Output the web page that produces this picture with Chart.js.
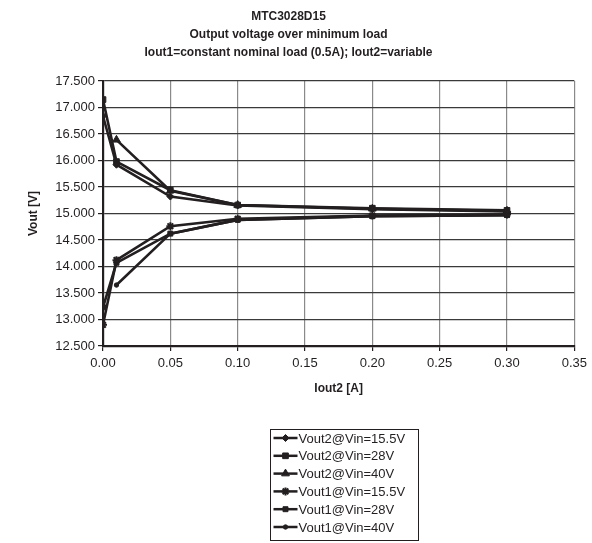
<!DOCTYPE html>
<html>
<head>
<meta charset="utf-8">
<script src="https://cdn.jsdelivr.net/npm/chart.js@4/dist/chart.umd.min.js"></script>
<style>
html,body{margin:0;padding:0;background:#fff;}
#wrap{width:592px;height:543px;}
</style>
</head>
<body>
<div id="wrap"><canvas id="c" width="592" height="543"></canvas></div>
<script>
const titleLines = ["MTC3028D15", "Output voltage over minimum load", "Iout1=constant nominal load (0.5A); Iout2=variable"];
const xTitle = "Iout2 [A]";
const yTitle = "Vout [V]";
const iout2 = [0, 0.01, 0.05, 0.10, 0.20, 0.30];
const seriesNames = ["Vout2@Vin=15.5V", "Vout2@Vin=28V", "Vout2@Vin=40V", "Vout1@Vin=15.5V", "Vout1@Vin=28V", "Vout1@Vin=40V"];
const vout2_15v5 = [16.84, 15.92, 15.32, 15.15, 15.08, 15.04];
const vout2_28v  = [17.15, 15.98, 15.44, 15.16, 15.10, 15.06];
const vout2_40v  = [null, 16.39, 15.43, 15.16, 15.09, 15.05];
const vout1_15v5 = [12.90, 14.12, 14.76, 14.90, 14.96, 14.98];
const vout1_28v  = [13.23, 14.07, 14.62, 14.88, 14.95, 14.97];
const vout1_40v  = [null, 13.65, 14.62, 14.88, 14.95, 14.97];
const yTicks = ["12.500","13.000","13.500","14.000","14.500","15.000","15.500","16.000","16.500","17.000","17.500"];
const xTicks = ["0.00","0.05","0.10","0.15","0.20","0.25","0.30","0.35"];

const allSeries = [vout2_15v5, vout2_28v, vout2_40v, vout1_15v5, vout1_28v, vout1_40v];
const markers = [
  {style:'rectRot', r:3.5},
  {style:'rect', r:4},
  {style:'triangle', r:4.5},
  {style:'star', r:4},
  {style:'rect', r:3.5},
  {style:'circle', r:2.2}
];
const INK = '#231f20';
const FONT = "'Liberation Sans', Arial, sans-serif";

const datasets = allSeries.map((vals, i) => ({
  label: seriesNames[i],
  data: iout2.map((x, k) => ({x: x, y: vals[k]})),
  borderColor: INK,
  backgroundColor: INK,
  borderWidth: 2.6,
  pointStyle: markers[i].style,
  pointRadius: markers[i].r,
  pointBorderWidth: markers[i].style === 'star' ? 2 : 1,
  pointBackgroundColor: INK,
  pointBorderColor: INK,
  spanGaps: false,
  tension: 0
}));

const legendBox = {
  id: 'legendBox',
  afterDraw(chart) {
    const ctx = chart.ctx;
    const ca = chart.chartArea;
    const boxW = 148, rowH = 17.8, boxH = 111;
    const left = Math.round((ca.left + ca.right) / 2 - boxW / 2 + 5) + 0.5;
    const top = 429.5;
    ctx.save();
    ctx.strokeStyle = INK;
    ctx.lineWidth = 1;
    ctx.strokeRect(left, top, boxW, boxH);
    ctx.font = "13px " + FONT;
    ctx.textBaseline = 'middle';
    ctx.fillStyle = INK;
    chart.data.datasets.forEach((ds, i) => {
      const y = top + 8.5 + i * rowH;
      ctx.beginPath();
      ctx.strokeStyle = INK;
      ctx.lineWidth = 2.5;
      ctx.moveTo(left + 3, y);
      ctx.lineTo(left + 27, y);
      ctx.stroke();
      ctx.lineWidth = ds.pointBorderWidth;
      ctx.fillStyle = INK;
      Chart.helpers.drawPoint(ctx, {pointStyle: ds.pointStyle, radius: ds.pointRadius, borderWidth: ds.pointBorderWidth, rotation: 0}, left + 15, y);
      ctx.fillStyle = INK;
      ctx.fillText(ds.label, left + 28, y + 1);
    });
    ctx.restore();
  }
};

new Chart(document.getElementById('c'), {
  type: 'line',
  data: { datasets: datasets },
  options: {
    responsive: false,
    animation: false,
    devicePixelRatio: 1,
    layout: { padding: { left: 0, right: 15, top: 0, bottom: 147 } },
    plugins: {
      legend: { display: false },
      tooltip: { enabled: false },
      title: {
        display: true,
        text: titleLines,
        color: INK,
        font: { family: FONT, size: 12, weight: 'bold', lineHeight: 1.5 },
        padding: { top: 8, bottom: 19 }
      }
    },
    scales: {
      x: {
        type: 'linear',
        min: 0, max: 0.35,
        afterFit(s) { s.height = 50; },
        afterBuildTicks(s) { s.ticks = xTicks.map(t => ({value: parseFloat(t)})); },
        ticks: {
          color: INK,
          font: { family: FONT, size: 13 },
          padding: 5,
          maxRotation: 0,
          callback: (v) => xTicks.find(t => Math.abs(parseFloat(t) - v) < 1e-9) || ''
        },
        grid: { color: '#8a8a8a', lineWidth: 1.2, tickLength: 5, tickColor: INK, tickWidth: 1.2 },
        border: { color: INK, width: 2.2 },
        title: {
          display: true, text: xTitle, color: INK,
          font: { family: FONT, size: 12, weight: 'bold' },
          padding: { top: 4, bottom: 0 }
        }
      },
      y: {
        type: 'linear',
        min: 12.5, max: 17.5,
        afterFit(s) { s.width = 103; },
        afterBuildTicks(s) { s.ticks = yTicks.map(t => ({value: parseFloat(t)})); },
        ticks: {
          color: INK,
          font: { family: FONT, size: 13 },
          padding: 3,
          callback: (v) => yTicks.find(t => Math.abs(parseFloat(t) - v) < 1e-9) || ''
        },
        grid: { color: '#3a3a3a', lineWidth: 1.2, tickLength: 5, tickColor: INK, tickWidth: 1.2 },
        border: { color: INK, width: 2.2 },
        title: {
          display: true, text: yTitle, color: INK,
          font: { family: FONT, size: 12, weight: 'bold' },
          padding: { top: 26, bottom: 0 }
        }
      }
    }
  },
  plugins: [legendBox]
});
</script>
</body>
</html>
